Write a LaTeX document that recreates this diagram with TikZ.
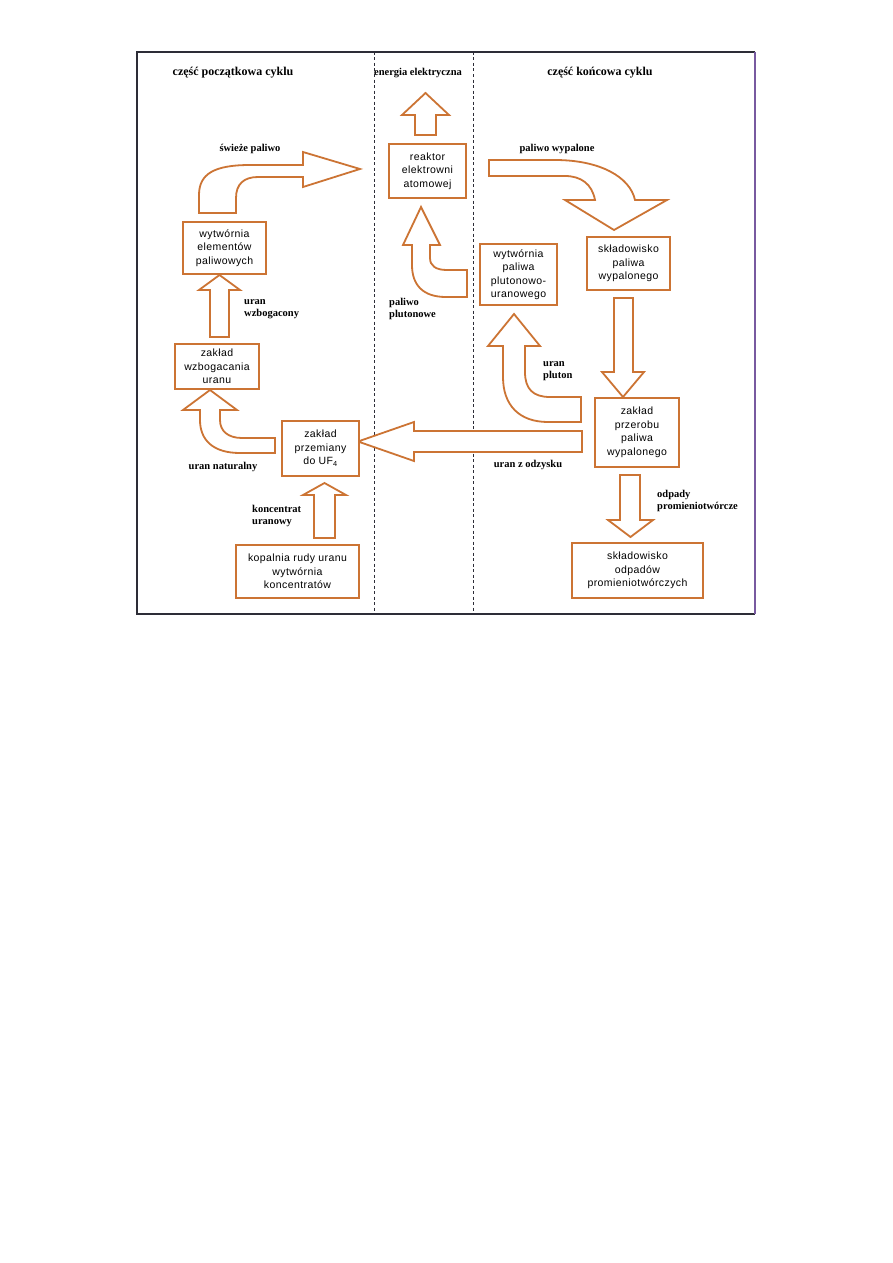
\documentclass[tikz,border=0pt]{standalone}
\usepackage{fontspec}
\setmainfont{Liberation Serif}
\newfontfamily\boxfont[LetterSpace=4.0]{Liberation Sans}
\definecolor{orng}{RGB}{204,116,52}
\definecolor{frm}{RGB}{45,45,55}
\definecolor{frmr}{RGB}{120,90,160}
\begin{document}
\begin{tikzpicture}[x=1pt,y=-1pt,
  box/.style={draw=orng, line width=2pt, fill=white, align=center, inner sep=1pt,
    font=\boxfont\fontsize{10.5}{13.5}\selectfont},
  lbl/.style={font=\bfseries\fontsize{10.5}{12.5}\selectfont, align=left, inner sep=0pt},
  ttl/.style={font=\bfseries\fontsize{12}{14}\selectfont, inner sep=0pt},
  farrow/.style={draw=orng, line width=1.8pt, fill=white, line join=miter},
  sep/.style={draw=frm, line width=0.8pt, dash pattern=on 3pt off 2.5pt}]
\useasboundingbox (0,0) rectangle (893,1263);
\fill[white] (0,0) rectangle (893,1263);
% frame
\draw[frm, line width=1.2pt] (755,52) -- (137,52) -- (137,614) -- (755,614);
\draw[frmr, line width=1.2pt] (755,52) -- (755,614);
\draw[sep] (374,52) -- (374,614);
\draw[sep] (473,52) -- (473,614);
% titles
\node[ttl, anchor=center] (t1) at (233,73) {część początkowa cyklu};
\node[lbl, anchor=center] (t2) at (418,73) {energia elektryczna};
\node[ttl, anchor=center] (t3) at (600,73) {część końcowa cyklu};
% block arrows
% energia elektryczna
\draw[farrow] (415,135) -- (415,115) -- (402,115) -- (425.5,93) -- (449,115) -- (436,115) -- (436,135) -- cycle;
% swieze paliwo
\draw[farrow] (199,213) -- (199,195) .. controls (199,174) and (214,165) .. (250,165) -- (303,165) -- (303,152)
  -- (360,169) -- (303,187) -- (303,177) -- (258,177) .. controls (244,177) and (236,184) .. (236,198) -- (236,213) -- cycle;
% uran wzbogacony
\draw[farrow] (210,337) -- (210,290) -- (199,290) -- (219.5,275) -- (240,290) -- (229,290) -- (229,337) -- cycle;
% uran naturalny
\draw[farrow] (275,453) -- (240,453) .. controls (213,453) and (200,440) .. (200,420) -- (200,410) -- (183,410)
  -- (210,390) -- (237,410) -- (220,410) -- (220,420) .. controls (220,431) and (228,438) .. (242,438) -- (275,438) -- cycle;
% koncentrat uranowy
\draw[farrow] (314,538) -- (314,495) -- (303,495) -- (324.5,483) -- (346,495) -- (335,495) -- (335,538) -- cycle;
% uran z odzysku
\draw[farrow] (582,431) -- (414,431) -- (414,422) -- (358,441.5) -- (414,461) -- (414,452) -- (582,452) -- cycle;
% uran pluton
\draw[farrow] (581,422) -- (548,422) .. controls (519,422) and (503,405) .. (503,377) -- (503,346) -- (488,346)
  -- (514,314) -- (540,346) -- (525,346) -- (525,372) .. controls (525,389) and (533,397) .. (550,397) -- (581,397) -- cycle;
% paliwo plutonowe
\draw[farrow] (467,297) -- (446,297) .. controls (423,297) and (412,285) .. (412,265) -- (412,245) -- (403,245)
  -- (421,207) -- (440,245) -- (430,245) -- (430,258) .. controls (430,266) and (436,270) .. (447,270) -- (467,270) -- cycle;
% paliwo wypalone
\draw[farrow] (489,160) -- (555,160) .. controls (600,160) and (630,177) .. (635,200) -- (667,200) -- (614,230)
  -- (565,200) -- (595,200) .. controls (592,184) and (581,176) .. (565,176) -- (489,176) -- cycle;
% skladowisko -> przerob
\draw[farrow] (614,298) -- (614,372) -- (602,372) -- (623,397) -- (644,372) -- (633,372) -- (633,298) -- cycle;
% odpady promieniotworcze
\draw[farrow] (620,475) -- (620,520) -- (608,520) -- (630.5,537) -- (653,520) -- (640,520) -- (640,475) -- cycle;
% boxes
\node[box, minimum width=77pt, minimum height=54pt] (reaktor) at (427.5,171) {reaktor\\elektrowni\\atomowej};
\node[box, minimum width=83pt, minimum height=52pt] (welem) at (224.5,248) {wytwórnia\\elementów\\paliwowych};
\node[box, minimum width=84pt, minimum height=45pt] (wzbog) at (217,366.5) {zakład\\wzbogacania\\uranu};
\node[box, minimum width=77pt, minimum height=55pt] (przem) at (320.5,448.5) {zakład\\przemiany\\do UF\textsubscript{4}};
\node[box, minimum width=123pt, minimum height=53pt] (kopal) at (297.5,571.5) {kopalnia rudy uranu\\wytwórnia\\koncentratów};
\node[box, minimum width=77pt, minimum height=61pt] (wplut) at (518.5,274.5) {wytwórnia\\paliwa\\plutonowo-\\uranowego};
\node[box, minimum width=83pt, minimum height=53pt] (skpal) at (628.5,263.5) {składowisko\\paliwa\\wypalonego};
\node[box, minimum width=84pt, minimum height=69pt] (przer) at (637,432.5) {zakład\\przerobu\\paliwa\\wypalonego};
\node[box, minimum width=131pt, minimum height=55pt] (skodp) at (637.5,570.5) {składowisko\\odpadów\\promieniotwórczych};
% labels
\node[lbl, anchor=center] (l1) at (250,149) {świeże paliwo};
\node[lbl, anchor=center] (l2) at (557,149) {paliwo wypalone};
\node[lbl, anchor=west] (l3) at (244,309) {uran\\wzbogacony};
\node[lbl, anchor=west] (l4) at (389,309) {paliwo\\plutonowe};
\node[lbl, anchor=west] (l5) at (543,371) {uran\\pluton};
\node[lbl, anchor=center] (l6) at (223,467) {uran naturalny};
\node[lbl, anchor=center] (l7) at (528,465) {uran z odzysku};
\node[lbl, anchor=west] (l8) at (252,516) {koncentrat\\uranowy};
\node[lbl, anchor=west] (l9) at (657,501) {odpady\\promieniotwórcze};
\end{tikzpicture}
\end{document}
